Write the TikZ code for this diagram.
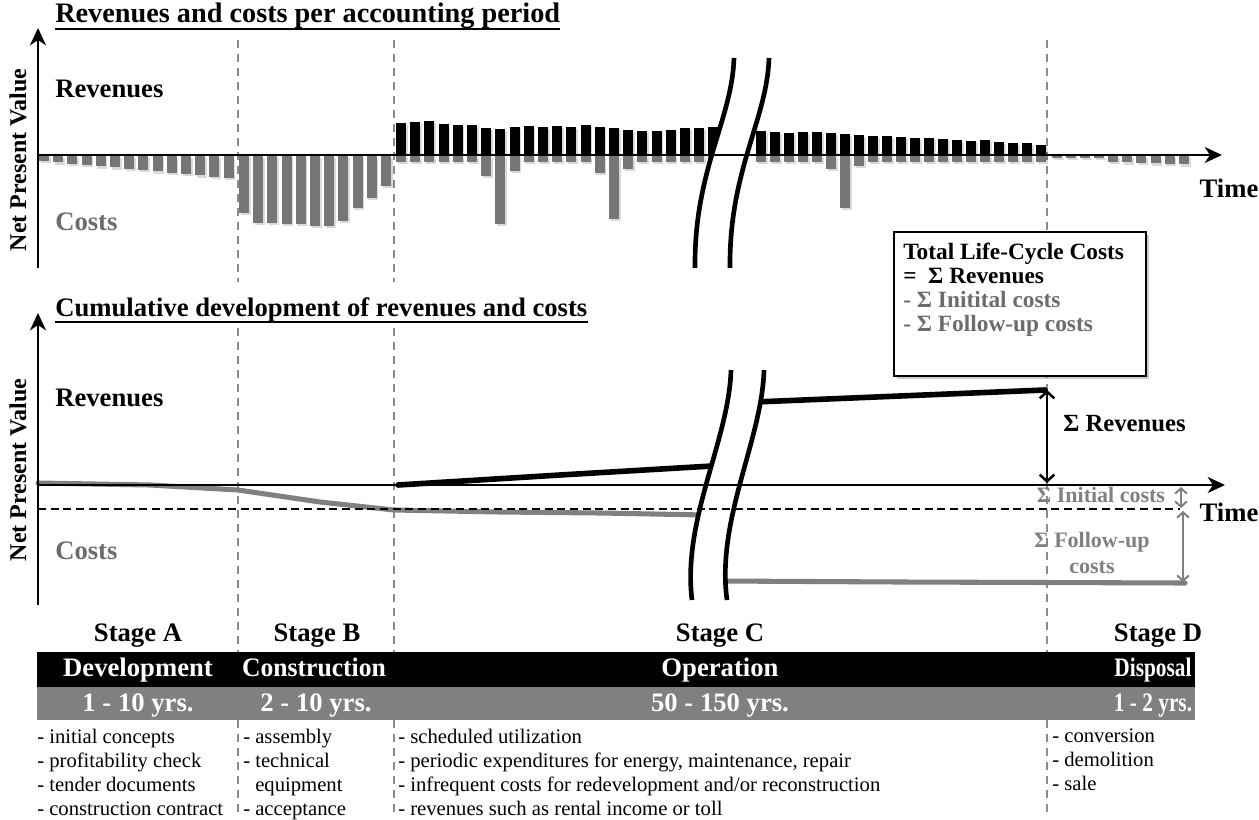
\documentclass[tikz,border=0pt]{standalone}
\usepackage{graphicx}
\usepackage{fontspec}
\setmainfont{Liberation Serif}
\usetikzlibrary{arrows.meta,shadows}

\definecolor{costgray}{RGB}{108,108,108}
\definecolor{bargray}{RGB}{118,118,118}
\definecolor{bandgray}{RGB}{128,128,128}
\definecolor{dashgray}{RGB}{140,140,140}

\tikzset{
	npvaxis/.style={line width=1.9pt, -{Stealth[length=13pt,width=12pt,inset=4pt]}},
	stagedash/.style={draw=dashgray, line width=1.5pt, dash pattern=on 6pt off 4.5pt},
	barshadow/.style={preaction={fill=black, opacity=0.15, transform canvas={xshift=1.2pt, yshift=-1.8pt}}},
	revbar/.style={barshadow, fill=black},
	costbar/.style={barshadow, fill=bargray},
	breakline/.style={line width=3.5pt},
	revline/.style={line width=4.2pt, line cap=round},
	costline/.style={draw=bandgray, line width=3.8pt, line cap=round},
	bigtext/.style={font=\bfseries\fontsize{20}{24}\selectfont, inner sep=0pt},
	graytext/.style={bigtext, text=costgray},
	npvtext/.style={font=\bfseries\fontsize{18}{20}\selectfont, inner sep=0pt, rotate=90},
	sumtext/.style={font=\bfseries\fontsize{16.5}{19.5}\selectfont, inner sep=0pt, text=bandgray, align=center},
	stagetext/.style={bigtext, anchor=base},
	bandtext/.style={bigtext, anchor=base, text=white},
	itemtext/.style={font=\fontsize{15.5}{18}\selectfont, inner sep=0pt, anchor=north west, align=left},
	sumarrow/.style={line width=1.9pt, {Straight Barb[length=5pt,width=11pt]}-{Straight Barb[length=5pt,width=11pt]}},
	grayarrow/.style={draw=bandgray, line width=1.5pt, {Straight Barb[length=4pt,width=9pt]}-{Straight Barb[length=4pt,width=9pt]}}
}

\begin{document}
\begin{tikzpicture}[x=0.75pt,y=0.75pt,yscale=-1,xscale=1]
\useasboundingbox (0,0) rectangle (1259,820);

% stage borders
\foreach \x in {238,394,1047} {
	\draw[stagedash] (\x,40) -- (\x,282);
	\draw[stagedash] (\x,328) -- (\x,815);
}

% --- revenues and costs per period
\foreach \i in {0,...,13}
	\fill[costbar] ({39+14.2*\i},156) rectangle ++(10,{5+1.3*\i});
\foreach \h [count=\i from 0] in {57,67,67,68,68,70,70,65,52,42,30}
	\fill[costbar] ({239+14.2*\i},156) rectangle ++(10,\h);
\foreach \h/\d [count=\i from 0] in {32/6,33/6,34/6,31/6,30/6,30/6,27/20,26/68,28/15,29/6,28/6,29/6,
		28/6,30/6,28/17,27/63,25/13,24/6,24/6,25/6,27/6,27/6,28/6} {
	\fill[revbar] ({396+14.2*\i},155) rectangle ++(10,-\h);
	\fill[costbar] ({396+14.2*\i},156) rectangle ++(10,\d);
}
\foreach \h/\d [count=\i from 0] in {24/6,23/6,22/6,23/6,23/6,22/13,21/52,20/10,19/6,19/6,18/6,
		17/6,17/6,16/6,15/6,14/6,15/6,13/6,12/6,12/6,10/6} {
	\fill[revbar] ({756+14*\i},155) rectangle ++(10,-\h);
	\fill[costbar] ({756+14*\i},156) rectangle ++(10,\d);
}
\foreach \i in {0,...,3}
	\fill[costbar] ({1052+14*\i},156) rectangle ++(10,2);
\foreach \i in {0,...,5}
	\fill[costbar] ({1108+14.2*\i},156) rectangle ++(10,{6+0.5*\i});

\fill[white] (734,58) .. controls (732,120) and (694,170) .. (695,268) -- (730,268) .. controls (729,170) and (767,120) .. (769,58) -- cycle;

\coordinate (oA) at (38,155);
\coordinate (yA) at (38,28);
\coordinate (xA) at (1222,155);
\draw[npvaxis] (38,268) -- (yA);
\draw[npvaxis] (oA) -- (xA);
\draw[breakline] (734,58) .. controls (732,120) and (694,170) .. (695,268);
\draw[breakline] (769,58) .. controls (767,120) and (729,170) .. (730,268);

\node[bigtext, font=\bfseries\fontsize{21.2}{24}\selectfont, anchor=base west] (ttlA) at (55,23) {Revenues and costs per accounting period};
\draw[line width=1.6pt] (55,29) -- (ttlA.east |- 0,29);
\node[npvtext] (npvA) at (18,160) {Net Present Value};
\node[bigtext, anchor=west] (revA) at (55,89) {Revenues};
\node[graytext, anchor=west] (costA) at (55,222) {Costs};
\node[bigtext] (timeA) at (1229,188) {Time};

% --- cumulative development
\draw[costline] (38,483) -- (150,485) -- (238,490) -- (320,502) -- (394,510) -- (500,512) -- (600,513) -- (705,515);
\draw[costline] (720,581) -- (900,582) -- (1185,583);
\draw[revline] (398,485) -- (560,475) -- (712,466);
\draw[revline] (755,402) -- (1045,390);

\fill[white] (731,370) .. controls (729,440) and (682,520) .. (692,600) -- (727,600) .. controls (716,520) and (762,440) .. (764,370) -- cycle;

\coordinate (oB) at (38,485);
\coordinate (yB) at (38,313);
\coordinate (xB) at (1225,485);
\draw[npvaxis] (38,605) -- (yB);
\draw[npvaxis] (oB) -- (xB);
\draw[line width=1.5pt, dash pattern=on 6pt off 3.5pt] (38,509) -- (1180,509);
\draw[breakline] (731,370) .. controls (729,440) and (682,520) .. (692,600);
\draw[breakline] (764,370) .. controls (762,440) and (716,520) .. (727,600);

\node[bigtext, anchor=base west] (ttlB) at (55,316) {Cumulative development of revenues and costs};
\draw[line width=1.6pt] (55,322) -- (ttlB.east |- 0,322);
\node[npvtext] (npvB) at (18,470) {Net Present Value};
\node[bigtext, anchor=west] (revB) at (55,398) {Revenues};
\node[graytext, anchor=west] (costB) at (55,551) {Costs};
\node[bigtext] (timeB) at (1229,512) {Time};

\coordinate (revTop) at (1047,390);
\coordinate (revBot) at (1047,483);
\draw[sumarrow] (revTop) -- (revBot);
\node[bigtext, font=\bfseries\fontsize{18.5}{20}\selectfont, anchor=west] (sumRev) at (1063,424) {Σ Revenues};
\coordinate (iniTop) at (1181,487);
\coordinate (iniBot) at (1181,508);
\draw[grayarrow] (iniTop) -- (iniBot);
\node[sumtext] (sumIni) at (1101,495) {Σ Initial costs};
\coordinate (fupTop) at (1183,511);
\coordinate (fupBot) at (1183,582);
\draw[grayarrow] (fupTop) -- (fupBot);
\node[sumtext] (sumFup) at (1092,553) {Σ Follow-up\\costs};

% life-cycle box
\node[draw, line width=1.6pt, fill=white, anchor=north west, minimum width=189pt, minimum height=108pt,
	drop shadow={opacity=0.4, shadow xshift=2pt, shadow yshift=-2pt}] (lcc) at (893,231) {};
\node[font=\bfseries\fontsize{17.5}{18}\selectfont, anchor=north west, align=left, inner sep=0pt] (lcctext) at (903,243)
	{Total Life-Cycle Costs\\=\ \ Σ Revenues\\\textcolor{costgray}{- Σ Initital costs}\\\textcolor{costgray}{- Σ Follow-up costs}};

% --- stages
\fill[black] (37,652) rectangle (1195,687);
\fill[bandgray] (37,687) rectangle (1195,720);

\node[stagetext] (stA) at (138,641) {Stage A};
\node[stagetext] (stB) at (317,641) {Stage B};
\node[stagetext] (stC) at (720,641) {Stage C};
\node[stagetext] (stD) at (1158,641) {Stage D};
\node[bandtext] (phA) at (138,676) {Development};
\node[bandtext] (phB) at (314,676) {\scalebox{0.96}[1]{Construction}};
\node[bandtext] (phC) at (720,676) {Operation};
\node[bandtext] (phD) at (1153,676) {\scalebox{0.8}[1]{Disposal}};
\node[bandtext] (yrA) at (138,711) {1 - 10 yrs.};
\node[bandtext] (yrB) at (316,711) {2 - 10 yrs.};
\node[bandtext] (yrC) at (720,711) {50 - 150 yrs.};
\node[bandtext] (yrD) at (1153,711) {\scalebox{0.8}[1]{1 - 2 yrs.}};

\node[itemtext] (itA) at (37,729) {- initial concepts\\- profitability check\\- tender documents\\- construction contract};
\node[itemtext] (itB) at (243,729) {- assembly\\- technical\\\phantom{- }equipment\\- acceptance};
\node[itemtext] (itC) at (398,729) {- scheduled utilization\\- periodic expenditures for energy, maintenance, repair\\- infrequent costs for redevelopment and/or reconstruction\\- revenues such as rental income or toll};
\node[itemtext] (itD) at (1052,729) {- conversion\\- demolition\\- sale};

\end{tikzpicture}
\end{document}
